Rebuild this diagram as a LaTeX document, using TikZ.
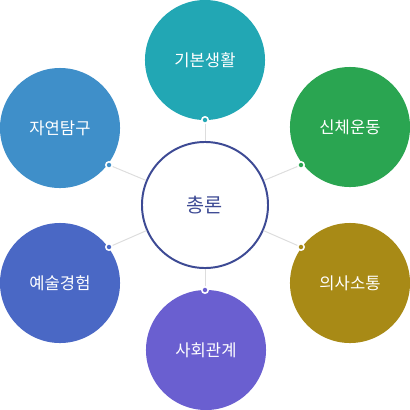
\documentclass[tikz,border=0pt]{standalone}
\usepackage{fontspec}
\setmainfont{Noto Sans CJK KR}
\usetikzlibrary{positioning}
\definecolor{tealarea}{HTML}{22A7B4}
\definecolor{greenarea}{HTML}{2AA551}
\definecolor{goldarea}{HTML}{A88A16}
\definecolor{purplearea}{HTML}{6A5FD0}
\definecolor{bluearea}{HTML}{4A68C5}
\definecolor{skyarea}{HTML}{3F8FC9}
\definecolor{corenavy}{HTML}{3D4A94}
\definecolor{linkgray}{HTML}{DDDDDD}

\begin{document}
\begin{tikzpicture}[
    x=0.025cm, y=-0.025cm,
    area/.style={circle, minimum size=3cm, inner sep=0pt, text=white, font=\fontsize{11.8}{14}\selectfont},
    core/.style={circle, minimum size=3.15cm, inner sep=0pt, draw=corenavy, line width=1.4pt, fill=white, text=corenavy, font=\fontsize{14}{16}\selectfont},
    pin/.style={circle, minimum size=0.16cm, inner sep=0pt, draw=white, line width=1.1pt},
    link/.style={draw=linkgray, line width=0.7pt},
]
\useasboundingbox (0,0) rectangle (410,410);

% Center
\node[core] (chongron) at (205,205) {총론};

% Six areas
\node[area, fill=tealarea] (gibon) at (205,60) {기본생활};
\node[area, fill=greenarea] (sinche) at (350,127) {신체운동};
\node[area, fill=goldarea] (uisa) at (350,283) {의사소통};
\node[area, fill=purplearea] (sahoe) at (206,350) {사회관계};
\node[area, fill=bluearea] (yesul) at (60,283) {예술경험};
\node[area, fill=skyarea] (jayeon) at (60,128) {자연탐구};

% Pins on the areas
\node[pin, fill=tealarea] (pgibon) at (205,120) {};
\node[pin, fill=greenarea] (psinche) at (301,165) {};
\node[pin, fill=goldarea] (puisa) at (301,247) {};
\node[pin, fill=purplearea] (psahoe) at (205,290) {};
\node[pin, fill=bluearea] (pyesul) at (109,247) {};
\node[pin, fill=skyarea] (pjayeon) at (109,165) {};

% Links to the center
\foreach \p in {pgibon, psinche, puisa, psahoe, pyesul, pjayeon}
    \draw[link] (\p) -- (chongron);

\end{tikzpicture}
\end{document}
